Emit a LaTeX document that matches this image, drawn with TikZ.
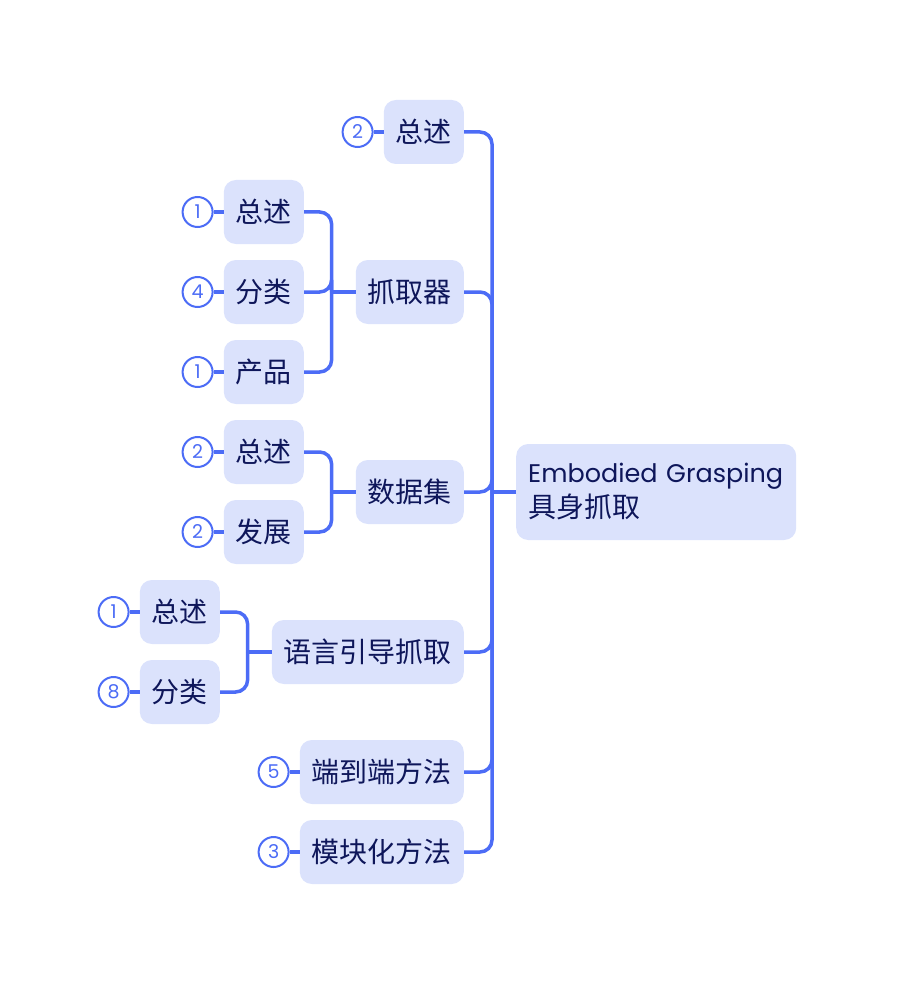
\documentclass[tikz,border=0pt]{standalone}
\usepackage{fontspec}
\setmainfont{Poppins}
\newfontfamily\cjk{Noto Sans CJK SC}
\usetikzlibrary{positioning,calc}
\definecolor{boxfill}{RGB}{219,226,252}
\definecolor{linkblue}{RGB}{76,108,246}
\definecolor{textnavy}{RGB}{14,22,90}

\begin{document}
\begin{tikzpicture}[x=1pt,y=-1pt,
  topic/.style={fill=boxfill,rounded corners=12pt,minimum height=64pt,inner xsep=12pt,text=textnavy,font=\cjk\fontsize{28}{34}\selectfont},
  badge/.style={circle,draw=linkblue,fill=white,line width=2pt,minimum size=30pt,inner sep=0pt,text=linkblue,font=\fontsize{19}{22}\selectfont},
  link/.style={draw=linkblue,line width=3.5pt,rounded corners=12pt}]
\useasboundingbox (0,0) rectangle (896,984);
\node[topic,anchor=west,minimum height=96pt,text width=256pt,align=left,font=\fontsize{25.5}{35}\selectfont] (root) at (516,492) {Embodied Grasping\\{\cjk\fontsize{28}{35}\selectfont 具身抓取}};
\coordinate (hub) at ($(root.west)+(-24,0)$);
\draw[link] (root.west) -- (hub);

\node[topic,anchor=east] (intro) at (464,132) {总述};
\node[topic,anchor=east] (grip) at (464,292) {抓取器};
\node[topic,anchor=east] (data) at (464,492) {数据集};
\node[topic,anchor=east] (lang) at (464,652) {语言引导抓取};
\node[topic,anchor=east] (e2e) at (464,772) {端到端方法};
\node[topic,anchor=east] (modular) at (464,852) {模块化方法};
\foreach \n in {intro,grip,data,lang,e2e,modular}
  \draw[link] (hub) |- (\n.east);

\node[topic,anchor=east] (grip-intro) at (304,212) {总述};
\node[topic,anchor=east] (grip-class) at (304,292) {分类};
\node[topic,anchor=east] (grip-prod) at (304,372) {产品};
\coordinate (grip-hub) at ($(grip.west)+(-24,0)$);
\draw[link] (grip.west) -- (grip-hub);
\foreach \n in {grip-intro,grip-class,grip-prod}
  \draw[link] (grip-hub) |- (\n.east);

\node[topic,anchor=east] (data-intro) at (304,452) {总述};
\node[topic,anchor=east] (data-dev) at (304,532) {发展};
\coordinate (data-hub) at ($(data.west)+(-24,0)$);
\draw[link] (data.west) -- (data-hub);
\foreach \n in {data-intro,data-dev}
  \draw[link] (data-hub) |- (\n.east);

\node[topic,anchor=east] (lang-intro) at (220,612) {总述};
\node[topic,anchor=east] (lang-class) at (220,692) {分类};
\coordinate (lang-hub) at ($(lang.west)+(-24,0)$);
\draw[link] (lang.west) -- (lang-hub);
\foreach \n in {lang-intro,lang-class}
  \draw[link] (lang-hub) |- (\n.east);

\foreach \n/\k in {intro/2,e2e/5,modular/3,grip-intro/1,grip-class/4,grip-prod/1,data-intro/2,data-dev/2,lang-intro/1,lang-class/8}{
  \node[badge,left=10pt of \n] (\n-count) {\k};
  \draw[link] (\n-count) -- (\n);
}
\end{tikzpicture}
\end{document}
